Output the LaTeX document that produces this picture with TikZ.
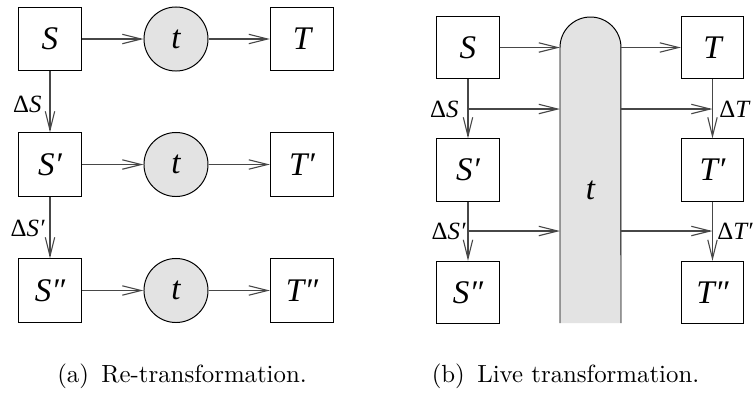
\documentclass[tikz,border=0pt]{standalone}
\usepackage{fontspec}
\newfontfamily\tnr{Liberation Serif}[ItalicFont={Liberation Serif Italic}]
\usetikzlibrary{arrows.meta}
\definecolor{fillgray}{RGB}{227,227,227}
\newcommand\vname[1]{{\tnr\itshape #1}}
\begin{document}
\begin{tikzpicture}[x=0.403pt,y=-0.403pt,
  letters/.style={font=\tnr\itshape\fontsize{13.3}{16}\selectfont},
  box/.style={draw, line width=0.4pt, inner sep=0, minimum size=#1, letters},
  box/.default=25.4pt,
  proc/.style={draw, circle, line width=0.4pt, fill=fillgray, inner sep=0,
    minimum size=25.8pt, letters},
  lbl/.style={inner sep=0, font=\tnr\fontsize{10}{12}\selectfont},
  flow/.style={draw=black!72, line width=0.45pt,
    -{Straight Barb[length=7.6pt,width=3.8pt,line width=0.45pt]}},
  subcaption/.style={inner sep=0}]
\useasboundingbox (0,0) rectangle (753,394);

% (a) re-transformation: every version of S is transformed from scratch
\node[box] (a-S)   at (50,39)    {S};
\node[box] (a-S1)  at (50,164.5) {S′};
\node[box] (a-S2)  at (50,290.5) {S″};
\node[proc] (a-t)  at (176,39)    {t};
\node[proc] (a-t1) at (176,164.5) {t};
\node[proc] (a-t2) at (176,290.5) {t};
\node[box] (a-T)   at (302,39)    {T};
\node[box] (a-T1)  at (302,164.5) {T′};
\node[box] (a-T2)  at (302,290.5) {T″};

\foreach \s/\t/\u in {a-S/a-t/a-T, a-S1/a-t1/a-T1, a-S2/a-t2/a-T2}{
  \draw[flow] (\s) -- (\t);
  \draw[flow] (\t) -- (\u);
}
\draw[flow] (a-S) -- (a-S1);
\draw[flow] (a-S1) -- (a-S2);
\node[lbl, anchor=east] (a-dS)  at (42,104) {Δ\vname{S}};
\node[lbl, anchor=east] (a-dS1) at (45,228) {Δ\vname{S′}};

% (b) live transformation: one running t propagates the deltas
\node[box=25pt] (b-S)  at (468,47.5) {S};
\node[box=25pt] (b-S1) at (468,170)  {S′};
\node[box=25pt] (b-S2) at (468,292.5) {S″};
\node[box=25pt] (b-T)  at (712.5,47.5) {T};
\node[box=25pt] (b-T1) at (712.5,170)  {T′};
\node[box=25pt] (b-T2) at (712.5,292.5) {T″};

\fill[fillgray] (560,323) -- (560,47.5) arc[start angle=180, end angle=0, radius=12.29pt] -- (621,323) -- cycle;
\draw[line width=0.4pt] (560,323) -- (560,47.5) arc[start angle=180, end angle=0, radius=12.29pt] -- (621,323);
\node[letters] (b-t) at (590.5,190) {t};

\coordinate (pin0)  at (560,47.5);
\coordinate (pin1)  at (560,109);
\coordinate (pin2)  at (560,231);
\coordinate (pout0) at (621,47.5);
\coordinate (pout1) at (621,109);
\coordinate (pout2) at (621,231);
\coordinate (sd1) at (468,109);
\coordinate (sd2) at (468,231);
\coordinate (td1) at (712.5,109);
\coordinate (td2) at (712.5,231);

\draw[flow] (b-S) -- (b-S1);
\draw[flow] (b-S1) -- (b-S2);
\draw[flow] (b-T) -- (b-T1);
\draw[flow] (b-T1) -- (b-T2);
\draw[flow] (b-S) -- (pin0);
\draw[flow] (pout0) -- (b-T);
\draw[flow] (sd1) -- (pin1);
\draw[flow] (sd2) -- (pin2);
\draw[flow] (pout1) -- (td1);
\draw[flow] (pout2) -- (td2);

\node[lbl, anchor=east] (b-dS)  at (459,109) {Δ\vname{S}};
\node[lbl, anchor=east] (b-dS1) at (466,231) {Δ\vname{S′}};
\node[lbl, anchor=west] (b-dT)  at (719,109) {Δ\vname{T}};
\node[lbl, anchor=west] (b-dT1) at (717,231) {Δ\vname{T′}};

% sub-captions
\node[subcaption] (cap-a) at (182,376) {(a)\enspace Re-transformation.};
\node[subcaption] (cap-b) at (565.5,376) {(b)\enspace Live transformation.};
\end{tikzpicture}
\end{document}
